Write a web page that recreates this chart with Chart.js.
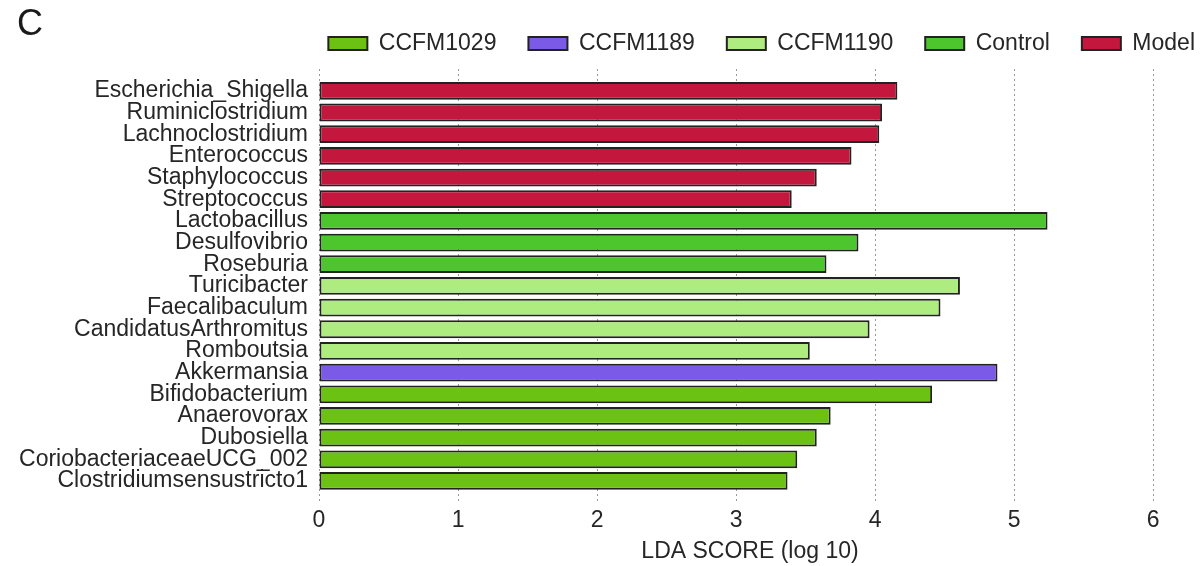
<!DOCTYPE html>
<html>
<head>
<meta charset="utf-8">
<script src="https://cdn.jsdelivr.net/npm/chart.js@4.4.1/dist/chart.umd.min.js"></script>
<style>
  html, body { margin: 0; padding: 0; background: #ffffff; }
  #wrap { position: relative; width: 1203px; height: 566px; }
</style>
</head>
<body>
<div id="wrap"><canvas id="lefse" width="1203" height="566"></canvas></div>
<script>
// Taxa ordered top to bottom, with their LDA scores and the group each is enriched in
const taxa = [
  'Escherichia_Shigella', 'Ruminiclostridium', 'Lachnoclostridium', 'Enterococcus',
  'Staphylococcus', 'Streptococcus', 'Lactobacillus', 'Desulfovibrio', 'Roseburia',
  'Turicibacter', 'Faecalibaculum', 'CandidatusArthromitus', 'Romboutsia',
  'Akkermansia', 'Bifidobacterium', 'Anaerovorax', 'Dubosiella',
  'CoriobacteriaceaeUCG_002', 'Clostridiumsensustricto1'
];
const ldaScores = [
  4.16, 4.05, 4.03, 3.83,
  3.58, 3.40, 5.24, 3.88, 3.65,
  4.61, 4.47, 3.96, 3.53,
  4.88, 4.41, 3.68, 3.58,
  3.44, 3.37
];
const taxonGroup = [
  'Model', 'Model', 'Model', 'Model',
  'Model', 'Model', 'Control', 'Control', 'Control',
  'CCFM1190', 'CCFM1190', 'CCFM1190', 'CCFM1190',
  'CCFM1189', 'CCFM1029', 'CCFM1029', 'CCFM1029',
  'CCFM1029', 'CCFM1029'
];
const groupNames = ['CCFM1029', 'CCFM1189', 'CCFM1190', 'Control', 'Model'];
const groupColors = ['#6cc212', '#7a5ae6', '#aeec80', '#4cc62c', '#c4173e'];
const xTicks = [0, 1, 2, 3, 4, 5, 6];

const FONT = "'Liberation Sans', Arial, Helvetica, sans-serif";
const TEXT = '#262626';
const FS = 23;

const datasets = groupNames.map((g, gi) => ({
  label: g,
  data: ldaScores.map((v, i) => (taxonGroup[i] === g ? v : null)),
  backgroundColor: groupColors[gi],
  borderColor: '#222222',
  borderWidth: 2,
  borderSkipped: false,
  categoryPercentage: 0.82,
  barPercentage: 1.0,
  grouped: false,
  skipNull: true
}));

// Panel letter in the upper-left corner
const panelLetter = {
  id: 'panelLetter',
  afterDraw(chart) {
    const ctx = chart.ctx;
    ctx.save();
    ctx.fillStyle = '#1a1a1a';
    ctx.font = '36px ' + FONT;
    ctx.textAlign = 'left';
    ctx.textBaseline = 'middle';
    ctx.fillText('C', 17, 25);
    ctx.restore();
  }
};

// Dotted vertical guides at each x tick, running a little past the plot area
const dottedGuides = {
  id: 'dottedGuides',
  beforeDatasetsDraw(chart) {
    const { ctx, chartArea, scales } = chart;
    ctx.save();
    ctx.strokeStyle = '#9a9a9a';
    ctx.lineWidth = 1;
    ctx.setLineDash([2, 3]);
    xTicks.forEach(t => {
      const x = Math.round(scales.x.getPixelForValue(t)) + 0.5;
      ctx.beginPath();
      ctx.moveTo(x, chartArea.top - 11);
      ctx.lineTo(x, chartArea.bottom + 12);
      ctx.stroke();
    });
    ctx.restore();
  }
};

// Extra room under the legend, and the legend flush with the right edge
const legendPlacement = {
  id: 'legendPlacement',
  beforeInit(chart) {
    const fit = chart.legend.fit;
    chart.legend.fit = function () {
      fit.call(this);
      this.height += 15;
    };
  },
  afterLayout(chart) {
    const lg = chart.legend;
    lg.left += 46;
    lg.right += 46;
  }
};

new Chart(document.getElementById('lefse'), {
  type: 'bar',
  data: { labels: taxa, datasets },
  options: {
    indexAxis: 'y',
    responsive: false,
    animation: false,
    layout: { padding: { top: 0, right: 22, left: 0, bottom: 1 } },
    plugins: {
      tooltip: { enabled: false },
      legend: {
        position: 'top',
        align: 'end',
        labels: {
          boxWidth: 39,
          boxHeight: 13,
          padding: 32,
          color: TEXT,
          font: { family: FONT, size: FS }
        }
      }
    },
    scales: {
      x: {
        type: 'linear',
        min: 0,
        max: 6.2,
        afterBuildTicks(scale) { scale.ticks = xTicks.map(v => ({ value: v })); },
        grid: { display: true, drawOnChartArea: false, drawTicks: true, tickLength: 12, color: 'rgba(0,0,0,0)' },
        border: { display: false },
        ticks: { color: TEXT, font: { family: FONT, size: FS }, padding: 3 },
        title: {
          display: true,
          text: 'LDA SCORE (log 10)',
          color: TEXT,
          font: { family: FONT, size: FS },
          padding: { top: 0, bottom: 0 }
        }
      },
      y: {
        type: 'category',
        grid: { display: false, drawTicks: false },
        border: { display: false },
        ticks: { color: TEXT, font: { family: FONT, size: FS }, padding: 11, autoSkip: false },
        afterFit(scale) { scale.width = 319; }
      }
    }
  },
  plugins: [panelLetter, dottedGuides, legendPlacement]
});
</script>
</body>
</html>
